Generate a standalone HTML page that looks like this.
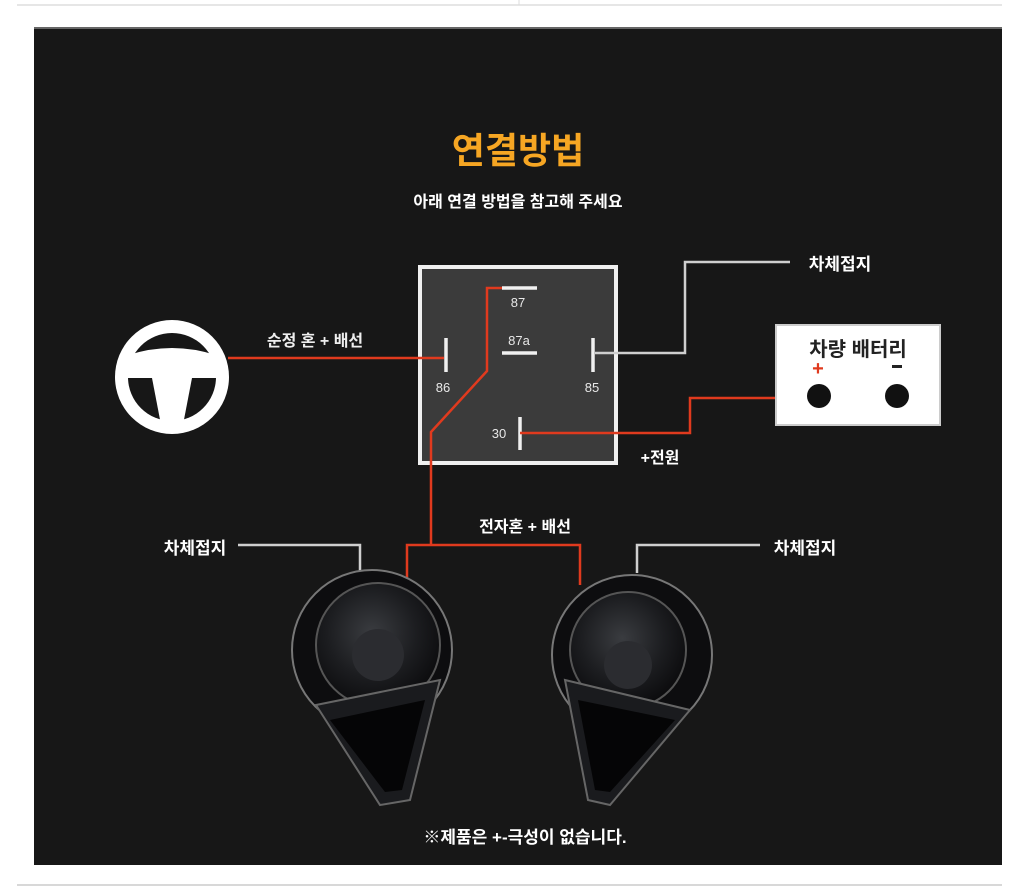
<!DOCTYPE html>
<html><head><meta charset="utf-8"><style>
html,body{margin:0;padding:0;background:#fff;}
svg{display:block;}
text{font-family:"Liberation Sans","Noto Sans CJK KR",sans-serif;}
</style></head><body>
<svg width="1024" height="890" viewBox="0 0 1024 890" xmlns="http://www.w3.org/2000/svg">
<defs>
<clipPath id="inner"><circle cx="172" cy="377" r="44"/></clipPath>
<radialGradient id="hg" cx="0.45" cy="0.4" r="0.6">
<stop offset="0" stop-color="#3a3c40"/><stop offset="0.6" stop-color="#1c1d20"/><stop offset="1" stop-color="#0c0c0e"/>
</radialGradient>
</defs>
<rect width="1024" height="890" fill="#fff"/>
<line x1="17" y1="5" x2="1002" y2="5" stroke="#ddd" stroke-width="1.5"/>
<line x1="519" y1="0" x2="519" y2="5" stroke="#ddd"/>
<rect x="34" y="27" width="968" height="838" fill="#171717"/>
<line x1="34" y1="28" x2="1002" y2="28" stroke="#666" stroke-width="2"/>
<line x1="17" y1="885" x2="1002" y2="885" stroke="#ccc" stroke-width="1.5"/>

<text x="518" y="163" text-anchor="middle" font-size="36" font-weight="bold" fill="#f6a623">연결방법</text>
<text x="518" y="207" text-anchor="middle" font-size="16" font-weight="bold" fill="#fff">아래 연결 방법을 참고해 주세요</text>

<!-- steering wheel -->
<circle cx="172" cy="377" r="57" fill="#fff"/>
<g clip-path="url(#inner)" fill="#171717">
<path d="M120 358 Q172 338 224 358 L224 320 L120 320 Z"/>
<path d="M120 378 L152 378 L162 430 L120 430 Z"/>
<path d="M224 378 L192 378 L182 430 L224 430 Z"/>
</g>

<!-- relay -->
<rect x="420" y="267" width="196" height="196" fill="#3b3b3b" stroke="#f0f0f0" stroke-width="4"/>
<g stroke="#f0f0f0" stroke-width="3.5">
<line x1="502" y1="288" x2="537" y2="288"/>
<line x1="502" y1="353" x2="537" y2="353"/>
<line x1="446" y1="338" x2="446" y2="372"/>
<line x1="593" y1="338" x2="593" y2="372"/>
<line x1="520" y1="417" x2="520" y2="450"/>
</g>
<g fill="#e8e8e8" font-size="13" text-anchor="middle">
<text x="518" y="307">87</text>
<text x="519" y="345">87a</text>
<text x="443" y="392">86</text>
<text x="592" y="392">85</text>
<text x="499" y="438">30</text>
</g>

<!-- wires -->
<g fill="none" stroke-width="2.5" stroke-linejoin="miter">
<polyline points="228,358 444,358" stroke="#e03a1e"/>
<polyline points="502,288 487,288 487,371 431,432 431,545" stroke="#e03a1e"/>
<polyline points="407,580 407,545 580,545 580,585" stroke="#e03a1e"/>
<polyline points="520,433 690,433 690,398 818,398" stroke="#e03a1e"/>
<polyline points="595,353 685,353 685,262 790,262" stroke="#cfcfcf"/>
<polyline points="238,545 360,545 360,573" stroke="#cfcfcf"/>
<polyline points="760,545 637,545 637,573" stroke="#cfcfcf"/>
</g>

<g font-weight="bold">
<text x="315" y="346" text-anchor="middle" font-size="16" fill="#eee">순정 혼 + 배선</text>
<text x="840" y="270" text-anchor="middle" font-size="17" fill="#fff">차체접지</text>
<text x="660" y="463" text-anchor="middle" font-size="16" fill="#fff">+전원</text>
<text x="525" y="532" text-anchor="middle" font-size="16" fill="#fff">전자혼 + 배선</text>
<text x="195" y="554" text-anchor="middle" font-size="17" fill="#fff">차체접지</text>
<text x="805" y="554" text-anchor="middle" font-size="17" fill="#fff">차체접지</text>
</g>

<!-- battery -->
<rect x="776" y="325" width="164" height="100" fill="#fff" stroke="#ccc" stroke-width="2"/>
<text x="858" y="356" text-anchor="middle" font-size="20" font-weight="bold" fill="#222">차량 배터리</text>
<text x="818" y="375" text-anchor="middle" font-size="20" font-weight="bold" fill="#e03a1e">+</text>
<rect x="892" y="365" width="10" height="3" fill="#222"/>
<circle cx="819" cy="396" r="12" fill="#111"/>
<circle cx="897" cy="396" r="12" fill="#111"/>

<!-- horns -->
<g>
<circle cx="372" cy="650" r="80" fill="#0d0d0f" stroke="#777" stroke-width="2"/>
<circle cx="378" cy="645" r="62" fill="url(#hg)" stroke="#555" stroke-width="2"/>
<circle cx="378" cy="655" r="26" fill="#2b2c30"/>
<path d="M316 705 L440 680 L410 800 L380 805 Z" fill="#1a1b1e" stroke="#666" stroke-width="2"/>
<path d="M330 720 L425 700 L402 790 L385 792 Z" fill="#050506"/>
</g>
<g>
<circle cx="632" cy="655" r="80" fill="#0d0d0f" stroke="#777" stroke-width="2"/>
<circle cx="628" cy="650" r="58" fill="url(#hg)" stroke="#555" stroke-width="2"/>
<circle cx="628" cy="665" r="24" fill="#2b2c30"/>
<path d="M565 680 L690 710 L610 805 L588 800 Z" fill="#1a1b1e" stroke="#666" stroke-width="2"/>
<path d="M578 700 L675 720 L610 792 L595 790 Z" fill="#050506"/>
</g>

<text x="525" y="843" text-anchor="middle" font-size="17" font-weight="bold" fill="#fff">※제품은 +-극성이 없습니다.</text>
</svg>
</body></html>
